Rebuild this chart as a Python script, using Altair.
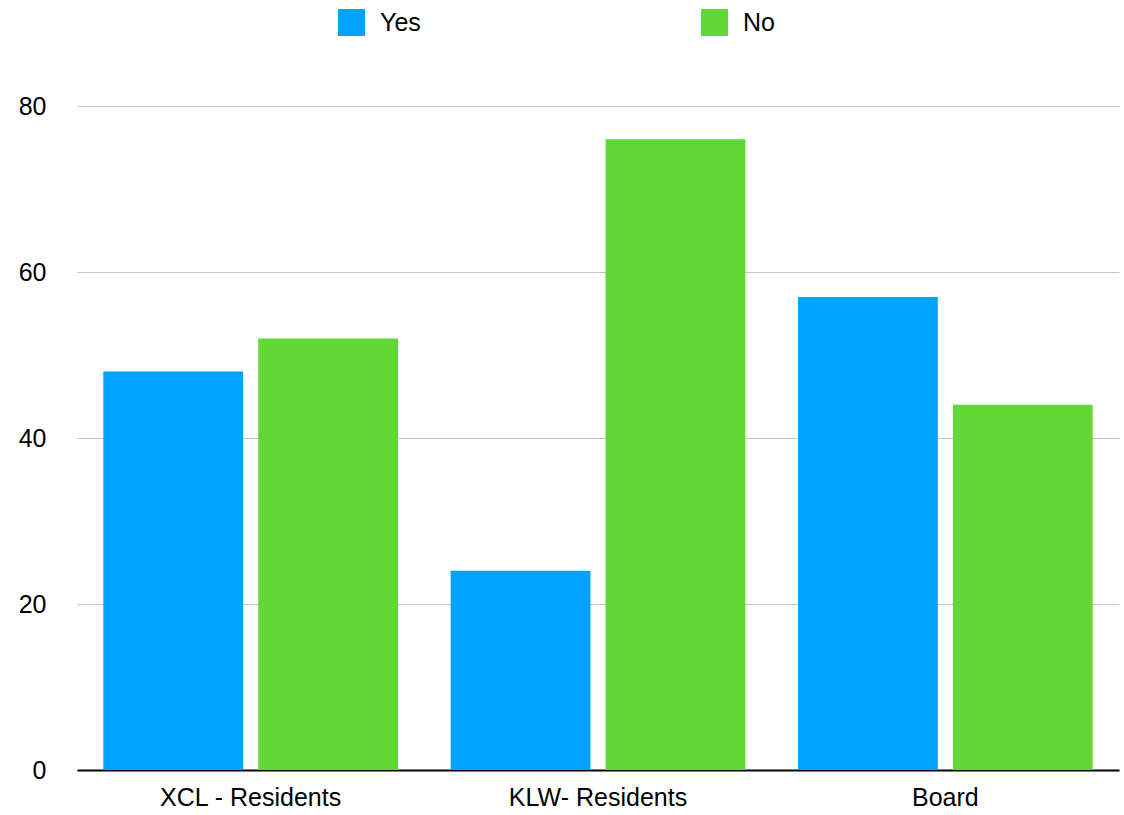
import altair as alt
import pandas as pd

groups = ["XCL - Residents", "KLW- Residents", "Board"]
answers = ["Yes", "No"]
yes_values = [48, 24, 57]
no_values = [52, 76, 44]
colors = ["#00A2FF", "#61D836"]

rows = []
for g, y, n in zip(groups, yes_values, no_values):
    rows.append({"group": g, "answer": "Yes", "value": y})
    rows.append({"group": g, "answer": "No", "value": n})
df = pd.DataFrame(rows)

FONT = "Liberation Sans"
SIZE = 25

chart = (
    alt.Chart(df)
    .mark_bar()
    .encode(
        x=alt.X(
            "group:N",
            sort=groups,
            title=None,
            scale=alt.Scale(paddingInner=0, paddingOuter=0),
            axis=alt.Axis(
                labelAngle=0,
                labelFontSize=SIZE,
                labelFont=FONT,
                labelColor="#000000",
                labelLimit=0,
                labelPadding=15,
                ticks=False,
                domainColor="#000000",
                domainWidth=2,
            ),
        ),
        xOffset=alt.XOffset(
            "answer:N",
            sort=answers,
            scale=alt.Scale(paddingInner=0.0974, paddingOuter=0.17),
        ),
        y=alt.Y(
            "value:Q",
            title=None,
            scale=alt.Scale(domain=[0, 80], nice=False),
            axis=alt.Axis(
                values=[0, 20, 40, 60, 80],
                labelFontSize=SIZE,
                labelFont=FONT,
                labelColor="#000000",
                labelPadding=31,
                ticks=False,
                domain=False,
                gridColor="#c4c4c4",
                gridWidth=1,
            ),
        ),
        color=alt.Color(
            "answer:N",
            sort=answers,
            scale=alt.Scale(domain=answers, range=colors),
            legend=alt.Legend(
                title=None,
                orient="none",
                legendX=261,
                legendY=-97,
                direction="horizontal",
                symbolType="square",
                symbolSize=729,
                symbolStrokeWidth=0,
                labelFontSize=SIZE,
                labelFont=FONT,
                labelColor="#000000",
                labelOffset=15,
                columnPadding=280,
            ),
        ),
    )
    .properties(
        width=1042,
        height=664,
        autosize=alt.AutoSizeParams(type="none"),
        padding={"left": 77, "top": 106, "right": 5, "bottom": 45},
    )
    .configure_view(stroke=None)
    .configure_axisY(gridDash=[])
)

chart.save("out.html", embed_options={"renderer": "svg", "actions": False})
